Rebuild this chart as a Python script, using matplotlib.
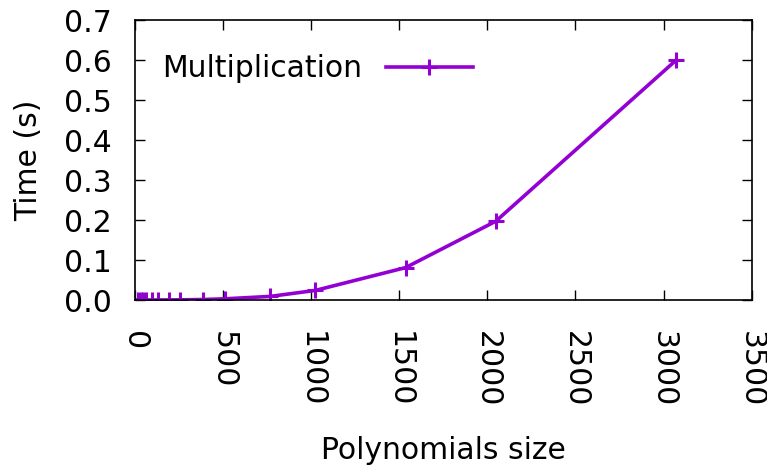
import matplotlib
matplotlib.use("Agg")
import matplotlib.pyplot as plt

# polynomial sizes and measured multiplication time (s)
sizes = [16, 32, 48, 64, 96, 128, 192, 256, 384, 512, 768, 1024, 1536, 2048, 3072]
times = [0.0, 0.0, 0.0, 0.0, 0.0, 0.0001, 0.0002, 0.0004, 0.0012, 0.003, 0.009, 0.024, 0.081, 0.197, 0.60]

x_ticks = [0, 500, 1000, 1500, 2000, 2500, 3000, 3500]
y_ticks = [0.0, 0.1, 0.2, 0.3, 0.4, 0.5, 0.6, 0.7]

plt.rcParams["font.family"] = ["DejaVu Sans"]
FS = 21.5

fig = plt.figure(figsize=(7.67, 4.67), dpi=100)
ax = fig.add_axes([0.176, 0.3576, 0.804, 0.5995])

ax.plot(sizes, times, color="#9400D3", linewidth=2.6, marker="+",
        markersize=12, markeredgewidth=2.2, label="Multiplication")

ax.set_xlim(0, 3500)
ax.set_ylim(0, 0.7)
ax.set_xticks(x_ticks)
ax.set_yticks(y_ticks)
ax.set_yticklabels([f"{v:.1f}" for v in y_ticks])
ax.set_xticklabels([str(v) for v in x_ticks], rotation=270, va="top", ha="center")

ax.tick_params(direction="in", length=7, width=1, top=True, right=True,
               labelsize=FS)
ax.tick_params(axis="y", pad=16.5)
ax.tick_params(axis="x", pad=22.5)
for s in ax.spines.values():
    s.set_linewidth(1.2)

ax.set_xlabel("Polynomials size", fontsize=FS, labelpad=20.5)
ax.set_ylabel("Time (s)", fontsize=FS, labelpad=15.5)

ax.legend(loc="upper left", frameon=False, fontsize=FS, markerfirst=False,
          handlelength=2.9, handletextpad=0.8, borderaxespad=0.3,
          bbox_to_anchor=(0.01, 0.952))

plt.savefig("out.png", dpi=100)
